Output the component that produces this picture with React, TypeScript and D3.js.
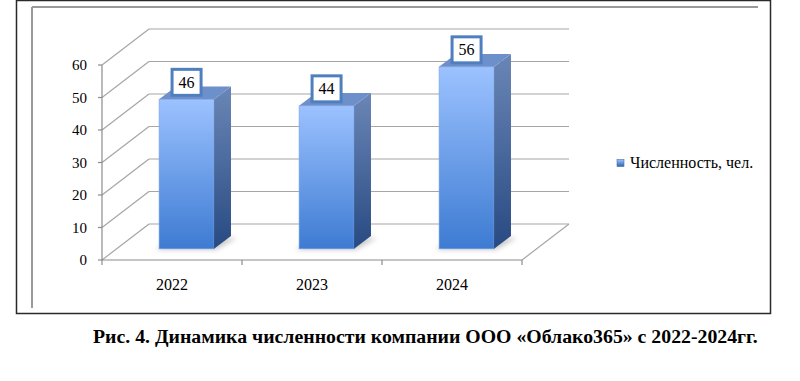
import React from "react";
import * as d3 from "d3";

const categories = ["2022", "2023", "2024"];
const values = [46, 44, 56];
const yTicks = [0, 10, 20, 30, 40, 50, 60];
const seriesName = "Численность, чел.";
const caption = "Рис. 4. Динамика численности компании ООО «Облако365» с 2022-2024гг.";

const W = 800;
const H = 381;
const DX = 47;
const DY = -36;
const BAR_FRONT = 0.31;
const BAR_DEPTH = 0.36;
const FF = "Liberation Serif";

export default function App() {
  const x = d3.scaleBand().domain(categories).range([102, 522]).padding(0);
  const y = d3.scaleLinear().domain([0, 60]).range([260, 65]);
  const barW = x.bandwidth() * (55 / 140);
  const fdx = DX * BAR_FRONT;
  const fdy = DY * BAR_FRONT;
  const bdx = DX * BAR_DEPTH;
  const bdy = DY * BAR_DEPTH;
  const x0 = x.range()[0];
  const x1 = x.range()[1];

  return (
    <svg width={W} height={H} style={{ position: "absolute", left: 0, top: 0 }}>
      <defs>
        <linearGradient id="front" x1="0" y1="0" x2="0" y2="1">
          <stop offset="0" stopColor="#9cc2ff" />
          <stop offset="1" stopColor="#3d7bd2" />
        </linearGradient>
        <linearGradient id="side" x1="0" y1="0" x2="0" y2="1">
          <stop offset="0" stopColor="#6a86b6" />
          <stop offset="1" stopColor="#284a82" />
        </linearGradient>
        <linearGradient id="leg" x1="0" y1="0" x2="0" y2="1">
          <stop offset="0" stopColor="#9cc2ff" />
          <stop offset="1" stopColor="#2f63b0" />
        </linearGradient>
        <filter id="blur" x="-50%" y="-50%" width="200%" height="200%">
          <feGaussianBlur stdDeviation="2.5" />
        </filter>
      </defs>

      <rect x={16.5} y={0.5} width={754} height={313} fill="none" stroke="#2a2a2a" strokeWidth={1.5} />
      <line x1={32} x2={758} y1={7} y2={7} stroke="#9a9a9a" strokeWidth={2} />
      <line x1={32} x2={32} y1={7} y2={308} stroke="#9a9a9a" strokeWidth={2} />

      {yTicks.map((t) => (
        <g key={t} stroke="#a6a6a6" strokeWidth={1.2}>
          <line x1={x0} y1={y(t)} x2={x0 + DX} y2={y(t) + DY} />
          <line x1={x0 + DX} y1={y(t) + DY} x2={x1 + DX} y2={y(t) + DY} />
        </g>
      ))}
      <line x1={x1} y1={y(0)} x2={x1 + DX} y2={y(0) + DY} stroke="#a6a6a6" strokeWidth={1.2} />

      <g stroke="#8c8c8c" strokeWidth={1.2}>
        <line x1={x0} x2={x0} y1={y(60)} y2={y(0)} />
        {yTicks.map((t) => (
          <line key={t} x1={x0 - 4} x2={x0} y1={y(t)} y2={y(t)} />
        ))}
        <line x1={x0} x2={x1} y1={y(0)} y2={y(0)} />
        {[...categories.map((c) => x(c)), x1].map((v, i) => (
          <line key={i} x1={v} x2={v} y1={y(0)} y2={y(0) + 5} />
        ))}
      </g>
      {yTicks.map((t) => (
        <text key={t} x={87} y={y(t) + 5} textAnchor="end" fontSize={15} fill="#000" fontFamily={FF}>
          {t}
        </text>
      ))}
      {categories.map((c) => (
        <text
          key={c}
          x={x(c) + x.bandwidth() / 2}
          y={290}
          textAnchor="middle"
          fontSize={16}
          fill="#000"
          fontFamily={FF}
        >
          {c}
        </text>
      ))}

      {categories.map((c, i) => {
        const cx = x(c) + x.bandwidth() / 2 + fdx;
        const bl = cx - barW / 2;
        const br = cx + barW / 2;
        const b0 = y(0) + fdy;
        const top = y(values[i]) + fdy;
        return (
          <g key={c}>
            <polygon
              points={`${bl - 4},${b0 + 1} ${br + 2},${b0 + 1} ${br + bdx + 6},${b0 + bdy + 2} ${bl + bdx},${b0 + bdy + 2}`}
              fill="#7a7a7a"
              opacity={0.4}
              filter="url(#blur)"
            />
            <rect x={bl} y={top} width={barW} height={b0 - top} fill="url(#front)" stroke="#7aa6ea" strokeWidth={0.6} />
            <polygon
              points={`${br},${top} ${br + bdx},${top + bdy} ${br + bdx},${b0 + bdy} ${br},${b0}`}
              fill="url(#side)"
            />
            <polygon
              points={`${bl},${top} ${bl + bdx},${top + bdy} ${br + bdx},${top + bdy} ${br},${top}`}
              fill="#6d90cb"
            />
          </g>
        );
      })}

      {categories.map((c, i) => {
        const cx = x(c) + x.bandwidth() / 2 + fdx;
        const top = y(values[i]) + fdy;
        const cy = top - 17;
        return (
          <g key={c}>
            <rect x={cx - 14.5} y={cy - 13} width={29} height={26} fill="#fff" stroke="#4f7fbf" strokeWidth={3} />
            <text x={cx} y={cy + 5.5} textAnchor="middle" fontSize={16} fill="#000" fontFamily={FF}>
              {values[i]}
            </text>
          </g>
        );
      })}

      <rect x={617} y={159.5} width={7} height={7} fill="url(#leg)" stroke="#4a6ea8" strokeWidth={0.6} />
      <text x={630} y={168} fontSize={16} fill="#000" fontFamily={FF}>
        {seriesName}
      </text>

      <text x={93} y={343} fontSize={19.8} fontWeight="bold" fill="#000" fontFamily={FF}>
        {caption}
      </text>
    </svg>
  );
}
